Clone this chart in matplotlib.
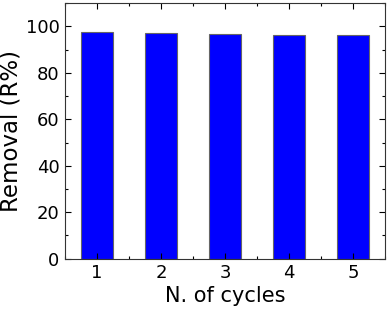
import matplotlib
matplotlib.use("Agg")
import matplotlib.pyplot as plt
from matplotlib.ticker import MultipleLocator

cycles = [1, 2, 3, 4, 5]
removal = [97.6, 97.1, 96.8, 96.3, 96.2]

fig = plt.figure(figsize=(3.87, 3.13), dpi=100)
ax = fig.add_axes([0.168, 0.1735, 0.827, 0.8165])

ax.bar(cycles, removal, width=0.5, color="#0000ff", edgecolor="#666666", linewidth=0.8)

ax.set_xlim(0.5, 5.5)
ax.set_ylim(0, 110)
ax.xaxis.set_major_locator(MultipleLocator(1))
ax.xaxis.set_minor_locator(MultipleLocator(0.5))
ax.yaxis.set_major_locator(MultipleLocator(20))
ax.yaxis.set_minor_locator(MultipleLocator(10))
ax.tick_params(which="both", direction="in", top=True, right=True, labelsize=13, width=0.8)
ax.tick_params(which="major", length=4, pad=4)
ax.tick_params(which="minor", length=2.5)
for s in ax.spines.values():
    s.set_linewidth(0.8)
    s.set_color("#333333")

ax.set_xlabel("N. of cycles", fontsize=15, labelpad=3)
ax.set_ylabel("Removal (R%)", fontsize=16.5, labelpad=2)

fig.savefig("out.png", dpi=100)
